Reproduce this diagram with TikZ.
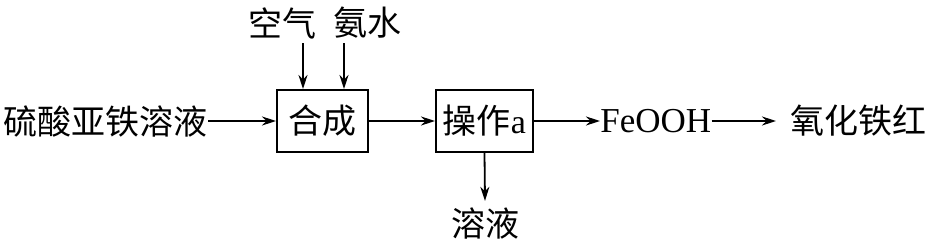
\documentclass[tikz,border=0pt]{standalone}
\usepackage{fontspec}
\setmainfont{Liberation Serif}
\newfontfamily\cjk{Noto Sans CJK SC}
\usetikzlibrary{arrows.meta,calc}
\tikzset{
  node-box/.style={draw,line width=1pt,minimum height=31pt,inner sep=0pt,
    align=center,font=\fontsize{17}{20}\selectfont},
  node-label/.style={inner sep=0pt,font=\fontsize{17}{20}\selectfont},
  arrow/.style={-{Stealth[length=7pt,width=4.5pt]},line width=0.9pt},
}

\begin{document}
\begin{tikzpicture}[x=0.5pt,y=-0.5pt]
  \useasboundingbox (0,0) rectangle (942,246);
  % boxes
  \node[node-box,minimum width=45.5pt] (hecheng) at (322.5,121) {\cjk 合成};
  \node[node-box,minimum width=48.5pt] (caozuo) at (484.5,121) {\cjk 操作\rmfamily a};
  % labels
  \node[node-label,anchor=east] (feso4) at (208,121) {\cjk 硫酸亚铁溶液};
  \node[node-label] (kongqi) at (282,23) {\cjk 空气};
  \node[node-label] (anshui) at (367,23) {\cjk 氨水};
  \node[node-label,anchor=west] (feooh) at (600,121) {\fontsize{17.5}{20}\selectfont FeOOH};
  \node[node-label,anchor=west] (tiehong) at (790,121) {\cjk 氧化铁红};
  \node[node-label] (rongye) at (485,223) {\cjk 溶液};
  % connectors
  \draw[arrow] ($(kongqi.south)+(21,4)$) coordinate (air-top) -- (air-top |- hecheng.north);
  \draw[arrow] ($(anshui.south)+(-23,4)$) coordinate (nh3-top) -- (nh3-top |- hecheng.north);
  \draw[arrow] (feso4.east) -- (hecheng.west);
  \draw[arrow] (hecheng.east) -- (caozuo.west);
  \draw[arrow] (caozuo.east) -- (feooh.west);
  \draw[arrow] (feooh.east) -- ($(tiehong.west)+(-14,0)$);
  \draw[arrow] (caozuo.south) -- ($(rongye.north)+(0,-6)$);
\end{tikzpicture}
\end{document}
